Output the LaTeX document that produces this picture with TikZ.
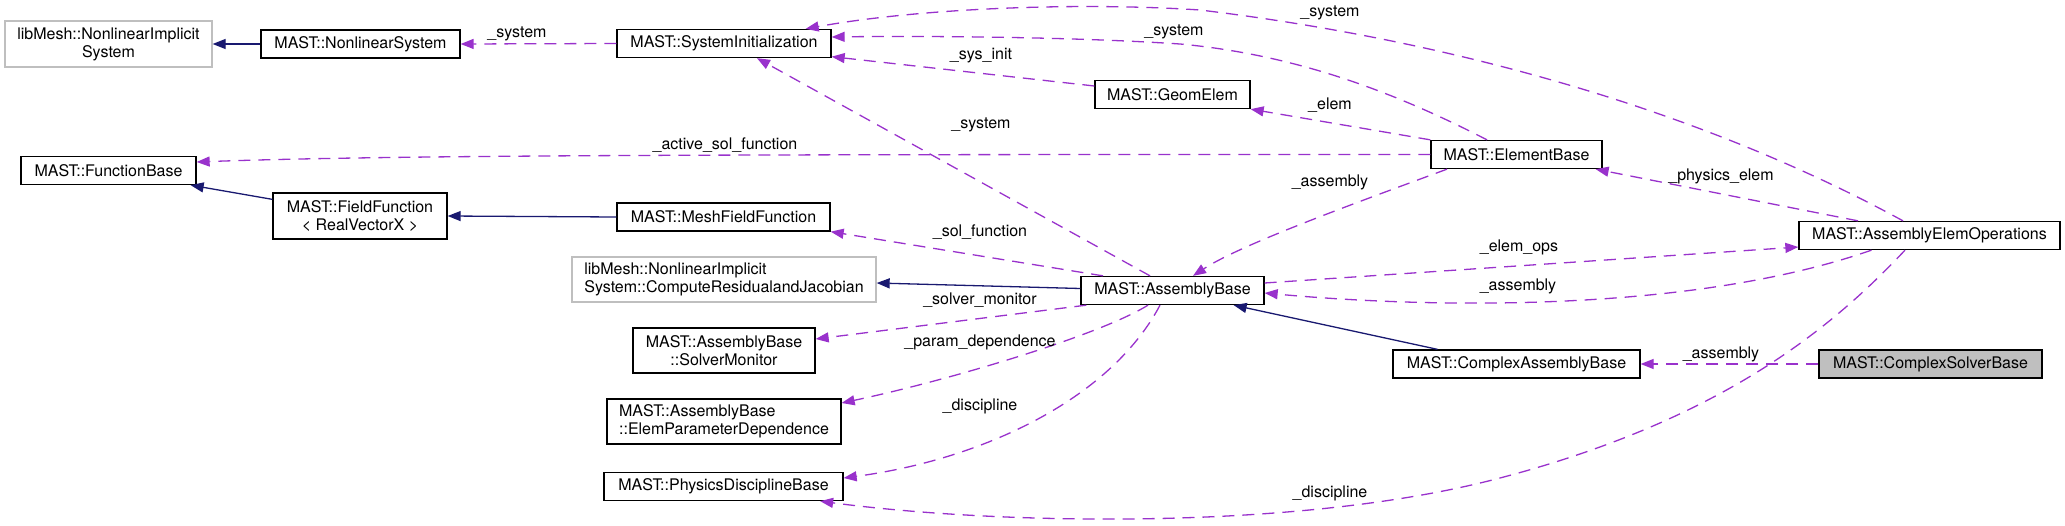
\documentclass[tikz,border=0pt]{standalone}
\usepackage{fontspec}
\setmainfont{TeX Gyre Heros}
\usepackage{tikz}
\usetikzlibrary{arrows.meta}
\usepackage{xcolor}
\definecolor{inhblue}{HTML}{191970}
\definecolor{usepurple}{HTML}{9932CC}
\definecolor{boxgray}{HTML}{BFBFBF}

\begin{document}
\begin{tikzpicture}[x=1pt,y=-1pt,font=\fontsize{16}{18}\selectfont,
  cls/.style={draw=black,line width=1.3pt,fill=white,inner xsep=9pt,inner ysep=2pt,minimum height=28pt,align=center},
  extcls/.style={cls,draw=boxgray},
  inherit/.style={draw=inhblue,line width=1.3pt,-{Triangle[length=13pt,width=10pt]}},
  uses/.style={draw=usepurple,line width=1.3pt,dash pattern=on 12pt off 8pt,-{Triangle[length=13pt,width=10pt]}},
  lbl/.style={inner sep=0pt}]
\useasboundingbox (0,0) rectangle (2065,525);
\node[extcls,minimum width=207pt,minimum height=46pt] (nlis) at (108.5,44) {libMesh::NonlinearImplicit\\System};
\node[cls,minimum width=199pt] (nls) at (360.5,44) {MAST::NonlinearSystem};
\node[cls,minimum width=214pt] (sysinit) at (724,43.5) {MAST::SystemInitialization};
\node[cls,minimum width=155pt] (geom) at (1172.5,94.5) {MAST::GeomElem};
\node[cls,minimum width=175pt] (funcbase) at (108.5,170.5) {MAST::FunctionBase};
\node[cls,minimum width=174pt,minimum height=46pt] (fieldfn) at (360,216) {MAST::FieldFunction\\< RealVectorX >};
\node[cls,minimum width=213pt] (meshfn) at (723.5,217) {MAST::MeshFieldFunction};
\node[cls,minimum width=171pt] (elembase) at (1516.5,154.5) {MAST::ElementBase};
\node[cls,minimum width=261pt] (aeo) at (1929.5,235.5) {MAST::AssemblyElemOperations};
\node[extcls,minimum width=304pt,minimum height=45pt,align=left] (resjac) at (724,279.5) {libMesh::NonlinearImplicit\\System::ComputeResidualandJacobian};
\node[cls,minimum width=183pt] (asmbase) at (1172.5,290.5) {MAST::AssemblyBase};
\node[cls,minimum width=182pt,minimum height=45pt] (solvmon) at (724,350.5) {MAST::AssemblyBase\\::SolverMonitor};
\node[cls,minimum width=234pt,minimum height=45pt,align=left] (paramdep) at (724,421.5) {MAST::AssemblyBase\\::ElemParameterDependence};
\node[cls,minimum width=239pt] (discbase) at (723.5,486.5) {MAST::PhysicsDisciplineBase};
\node[cls,minimum width=247pt] (cplxasm) at (1516.5,364) {MAST::ComplexAssemblyBase};
\node[cls,fill=boxgray,minimum width=223pt] (cplxsolv) at (1930.5,364) {MAST::ComplexSolverBase};

\draw[inherit] (nls) -- (nlis);
\draw[inherit] ([yshift=-7pt]fieldfn.north west) -- ([xshift=-6pt]funcbase.south east);
\draw[inherit] (meshfn.west) -- (fieldfn.east);
\draw[inherit] ([yshift=2pt]asmbase.west) -- ([yshift=-3.5pt]resjac.east);
\draw[inherit] ([xshift=-79pt]cplxasm.north) -- ([xshift=-31pt]asmbase.south east);

\draw[uses] (sysinit.west) -- (nls.east) node[lbl] at (517,34) {\_system};
\draw[uses] ([yshift=8.5pt]geom.west) -- ([yshift=1.5pt]sysinit.south east) node[lbl] at (981,56) {\_sys\_init};
\draw[uses] ([xshift=-29.5pt]elembase.north) .. controls (1400,95) and (1300,55) .. (1180,44) .. controls (1060,36) and (900,36) .. ([yshift=6.5pt]sysinit.east) node[lbl] at (1174,32) {\_system};
\draw[uses] ([xshift=-26.5pt]aeo.north) .. controls (1700,110) and (1450,40) .. (1200,10) .. controls (1080,2) and (920,8) .. ([xshift=-26pt]sysinit.north east) node[lbl] at (1330,13) {\_system};
\draw[uses] ([xshift=-22.5pt]asmbase.north) -- ([xshift=33pt]sysinit.south) node[lbl] at (981,125) {\_system};
\draw[uses] (elembase.north west) -- (geom.south east) node[lbl] at (1330,105) {\_elem};
\draw[uses] (elembase.west) .. controls (800,154.5) and (400,154.5) .. ([yshift=8.5pt]funcbase.east) node[lbl] at (725,145) {\_active\_sol\_function};
\draw[uses] ([xshift=-69.5pt]elembase.south) .. controls (1350,205) and (1240,245) .. ([xshift=20.5pt]asmbase.north) node[lbl] at (1330,182) {\_assembly};
\draw[uses] ([xshift=-71.5pt]aeo.north) -- ([xshift=-7pt]elembase.south east) node[lbl] at (1721,176) {\_physics\_elem};
\draw[uses] ([yshift=7.5pt]asmbase.east) -- ([yshift=-11.5pt]aeo.west) node[lbl] at (1519,247) {\_elem\_ops};
\draw[uses] ([xshift=-58pt]aeo.south) .. controls (1700,310) and (1450,310) .. ([yshift=-2.5pt]asmbase.east) node[lbl] at (1518,286) {\_assembly};
\draw[uses] ([xshift=-69.5pt]asmbase.north) -- (meshfn.south east) node[lbl] at (980,232) {\_sol\_function};
\draw[uses] ([xshift=6pt]asmbase.south west) -- ([yshift=11.5pt]solvmon.east) node[lbl] at (980,300) {\_solver\_monitor};
\draw[uses] ([xshift=-24.5pt]asmbase.south) .. controls (1100,335) and (950,380) .. ([yshift=18.5pt]paramdep.east) node[lbl] at (980,342) {\_param\_dependence};
\draw[uses] ([xshift=-12.5pt]asmbase.south) .. controls (1110,400) and (980,460) .. ([yshift=8.5pt]discbase.east) node[lbl] at (980,406) {\_discipline};
\draw[uses] ([xshift=-24.5pt]aeo.south) .. controls (1830,330) and (1720,420) .. (1500,478) .. controls (1300,531) and (1000,525) .. ([xshift=-23.5pt]discbase.south east) node[lbl] at (1330,493) {\_discipline};
\draw[uses] (cplxsolv) -- (cplxasm) node[lbl] at (1721,354) {\_assembly};
\end{tikzpicture}
\end{document}
